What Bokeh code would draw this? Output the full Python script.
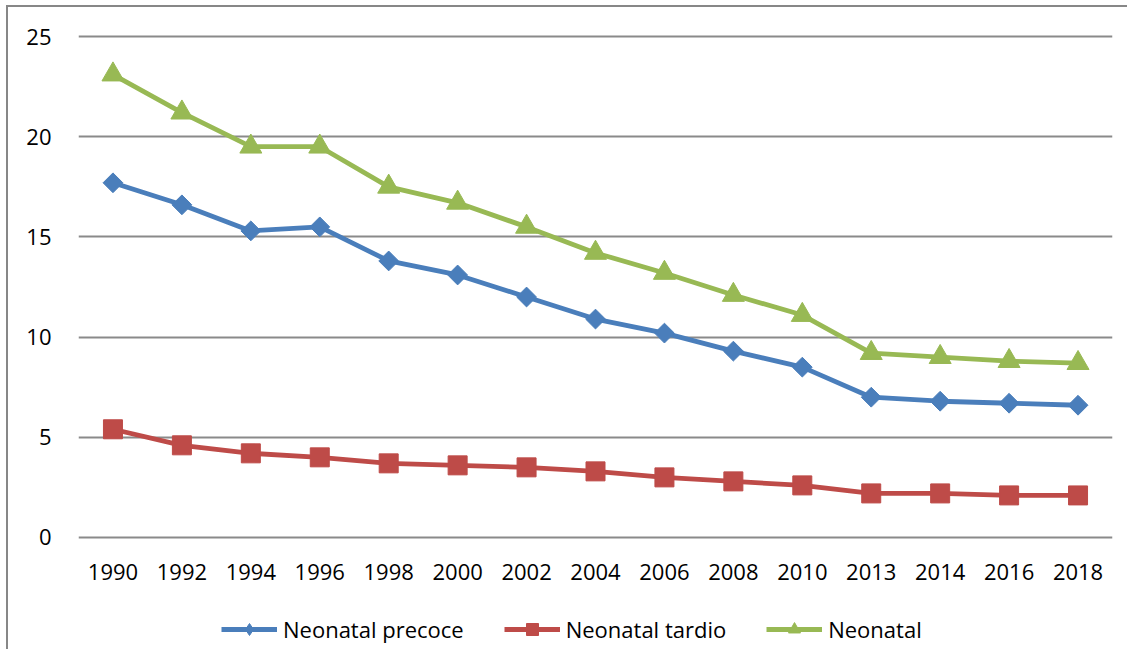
import math
from bokeh.plotting import figure
from bokeh.layouts import column
from bokeh.models import FactorRange, Range1d, Legend, LegendItem, ColumnDataSource
from bokeh.embed import file_html
from bokeh.resources import INLINE

years = ["1990", "1992", "1994", "1996", "1998", "2000", "2002", "2004",
         "2006", "2008", "2010", "2013", "2014", "2016", "2018"]
precoce = [17.7, 16.6, 15.3, 15.5, 13.8, 13.1, 12.0, 10.9, 10.2, 9.3, 8.5, 7.0, 6.8, 6.7, 6.6]
tardio = [5.4, 4.6, 4.2, 4.0, 3.7, 3.6, 3.5, 3.3, 3.0, 2.8, 2.6, 2.2, 2.2, 2.1, 2.1]
neonatal = [23.1, 21.2, 19.5, 19.5, 17.5, 16.7, 15.5, 14.2, 13.2, 12.1, 11.1, 9.2, 9.0, 8.8, 8.7]
series_names = ["Neonatal precoce", "Neonatal tardio", "Neonatal"]
y_ticks = [0, 5, 10, 15, 20, 25]

FONT = "Open Sans"
BLUE, RED, GREEN = "#4A7EBB", "#BE4B48", "#98B954"
LW = 4.8

src = ColumnDataSource(dict(x=years, pre=precoce, tar=tardio, neo=neonatal))

chart = figure(x_range=FactorRange(*years, range_padding=0), y_range=Range1d(-0.1, 25.1),
               frame_width=1034, frame_height=505,
               min_border_left=70, min_border_right=15, min_border_top=27, min_border_bottom=60,
               output_backend="svg", toolbar_location=None)

chart.line("x", "pre", source=src, line_color=BLUE, line_width=LW)
chart.scatter("x", "pre", source=src, marker="square", angle=math.pi / 4, size=14,
              fill_color=BLUE, line_color=BLUE)
chart.line("x", "tar", source=src, line_color=RED, line_width=LW)
chart.scatter("x", "tar", source=src, marker="square", size=19,
              fill_color=RED, line_color=RED)
chart.line("x", "neo", source=src, line_color=GREEN, line_width=LW)
chart.scatter("x", "neo", source=src, marker="triangle", size=22,
              fill_color=GREEN, line_color=GREEN)

chart.outline_line_color = None
chart.xgrid.grid_line_color = None
chart.ygrid.grid_line_color = "#8a8a8a"
chart.ygrid.grid_line_width = 2
chart.yaxis.ticker = y_ticks

for ax in (chart.xaxis[0], chart.yaxis[0]):
    ax.axis_line_color = None
    ax.major_tick_line_color = None
    ax.minor_tick_line_color = None
    ax.major_tick_out = 0
    ax.major_tick_in = 0
    ax.major_label_text_font = FONT
    ax.major_label_text_font_size = "22px"
    ax.major_label_text_color = "#000000"
chart.yaxis.major_label_standoff = 27
chart.xaxis.major_label_standoff = 24

# legend strip: same series drawn in a figure whose visible y-window holds none of
# them, so only its legend shows
leg = figure(width=1119, height=50, min_border=0, output_backend="svg",
             toolbar_location=None, x_range=FactorRange(*years, range_padding=0),
             y_range=Range1d(-200, -199))
leg.axis.visible = False
leg.grid.visible = False
leg.outline_line_color = None
r = []
for col, color, marker, ms in (("pre", BLUE, "diamond", 18), ("tar", RED, "square", 14),
                               ("neo", GREEN, "triangle", 16)):
    ln = leg.line("x", col, source=src, line_color=color, line_width=LW)
    sc = leg.scatter("x", col, source=src, marker=marker, size=ms,
                     fill_color=color, line_color=color)
    r.append([ln, sc])

legend = Legend(items=[LegendItem(label=n, renderers=rr) for n, rr in zip(series_names, r)],
                orientation="horizontal", location=(143, 5),
                glyph_width=56, glyph_height=30, label_standoff=6, spacing=40,
                border_line_color=None, background_fill_alpha=0,
                label_text_font=FONT, label_text_font_size="22px",
                label_text_color="#000000", padding=0, margin=0)
leg.add_layout(legend)

p = column(chart, leg, spacing=0,
           styles={"border-left": "2px solid #878787", "border-top": "2px solid #878787",
                   "margin-left": "6px", "margin-top": "5px"})

open("out.html", "w").write(file_html(p, INLINE))
